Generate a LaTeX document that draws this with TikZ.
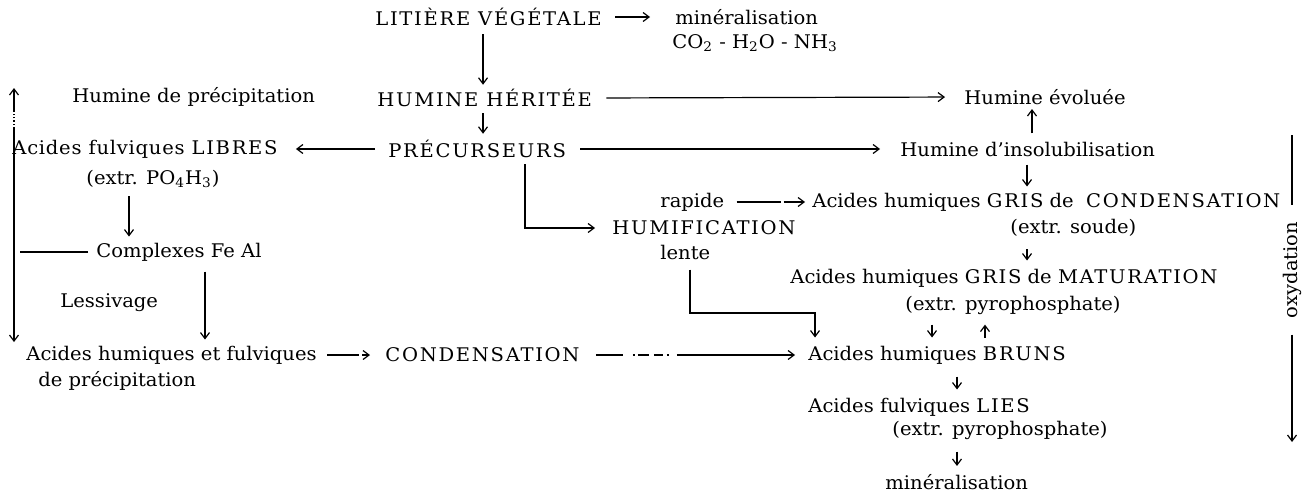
\documentclass[tikz,border=0pt]{standalone}
\usepackage{fontspec}
\setmainfont{DejaVu Serif}[FakeStretch=1.04]
\usetikzlibrary{arrows.meta}
\newcommand\cp[1]{{\addfontfeature{LetterSpace=9}#1}}
\tikzset{
  lbl/.style={anchor=west,inner sep=0pt,font=\fontsize{9.4}{11}\selectfont},
  fl/.style={-{Straight Barb[length=3pt,width=4.5pt]},line width=0.6pt},
  ln/.style={line width=0.6pt},
}
\begin{document}
\begin{tikzpicture}[x=0.5pt,y=0.5pt,yscale=-1,xscale=1]
        \useasboundingbox (0,0) rectangle (1307,493);
        % texts
        \draw (375,17) node [lbl] (lit) {\cp{LITIÈRE VÉGÉTALE}};
        \draw (675,17) node [lbl] (minr) {minéralisation};
        \draw (672,43) node [lbl] (gaz) {CO\textsubscript{2} - H\textsubscript{2}O - NH\textsubscript{3}};
        \draw (377,98) node [lbl] (hher) {\cp{HUMINE HÉRITÉE}};
        \draw (964,97) node [lbl] (hevol) {Humine évoluée};
        \draw (72,97) node [lbl] (hprec) {Humine de précipitation};
        \draw (388,149) node [lbl] (prec) {\cp{PRÉCURSEURS}};
        \draw (900,149) node [lbl] (hinsol) {Humine d'insolubilisation};
        \draw (12,149) node [lbl] (afl) {{\addfontfeature{LetterSpace=4}Acides fulviques }\cp{LIBRES}};
        \draw (86,179) node [lbl] (afle) {(extr. PO\textsubscript{4}H\textsubscript{3})};
        \draw (96,252) node [lbl] (cplx) {Complexes Fe Al};
        \draw (60,303) node [lbl] (less) {Lessivage};
        \draw (26,355) node [lbl] (ahf) {Acides humiques et fulviques};
        \draw (38,381) node [lbl] (ahf2) {de précipitation};
        \draw (385,355) node [lbl] (cond) {\cp{CONDENSATION}};
        \draw (808,355) node [lbl] (brun) {Acides humiques \cp{BRUNS}};
        \draw (660,202) node [lbl] (rap) {rapide};
        \draw (612,228) node [lbl] (humif) {\cp{HUMIFICATION}};
        \draw (660,252) node [lbl] (lente) {lente};
        \draw (812,202) node [lbl] (grisc) {Acides humiques \cp{GRIS} de \ \cp{CONDENSATION}};
        \draw (1010,228) node [lbl] (soude) {(extr. soude)};
        \draw (790,278) node [lbl] (grism) {Acides humiques \cp{GRIS} de \cp{MATURATION}};
        \draw (905,305) node [lbl] (pyro1) {(extr. pyrophosphate)};
        \draw (808,407) node [lbl] (lies) {Acides fulviques \cp{LIES}};
        \draw (892,430) node [lbl] (pyro2) {(extr. pyrophosphate)};
        \draw (885,482) node [lbl] (minr2) {minéralisation};
        \draw (1292,270) node [lbl,anchor=center,rotate=90] (oxy) {oxydation};
        % helper coordinates
        \coordinate (lvtop) at (14,88);
        \coordinate (lvdot) at (14,111);
        \coordinate (lvmid) at (14,128);
        \coordinate (lv) at (14,252);
        \coordinate (lvbot) at (14,342);
        \coordinate (xa) at (129,0);
        \coordinate (xb) at (205,0);
        \coordinate (xc) at (483,0);
        \coordinate (xd) at (525,0);
        \coordinate (xe) at (1027,0);
        \coordinate (xf) at (1032,0);
        \coordinate (knee) at (690,313);
        \coordinate (xg) at (815,313);
        \coordinate (xh) at (932,0);
        \coordinate (xi) at (985,0);
        \coordinate (xj) at (957,0);
        \coordinate (otop) at (1292,135);
        \coordinate (obot) at (1292,442);
        % connectors
        \draw [fl,shorten <=6.5pt,shorten >=12.5pt] (lit.east) -- (minr.west);
        \draw [fl,shorten <=4pt,shorten >=2pt] (lit.south -| xc) -- (hher.north -| xc);
        \draw [fl,shorten <=3pt,shorten >=3pt] (hher.south -| xc) -- (prec.north -| xc);
        \draw [fl,shorten <=7pt,shorten >=9.5pt] (hher.east) -- (hevol.west);
        \draw [fl,shorten <=4pt,shorten >=2pt] (hinsol.north -| xf) -- (hevol.south -| xf);
        \draw [fl,shorten <=7pt,shorten >=10pt] (prec.east) -- (hinsol.west);
        \draw [fl,shorten <=6.5pt,shorten >=9pt] (prec.west) -- (afl.east);
        \draw [fl,shorten <=4pt,shorten >=3pt] (afle.south -| xa) -- (cplx.north -| xa);
        \draw [ln,shorten <=4pt,shorten >=3pt] (cplx.west) -- (lv);
        \draw [ln] (lv) -- (lvmid);
        \draw [ln,densely dotted] (lvmid) -- (lvdot);
        \draw [fl] (lvdot) -- (lvtop);
        \draw [fl] (lv) -- (lvbot);
        \draw [fl,shorten <=5pt,shorten >=3pt] (cplx.south -| xb) -- (ahf.north -| xb);
        \draw [fl,dash pattern=on 16pt off 1.5pt on 40pt,shorten <=5pt,shorten >=7.5pt] (ahf.east) -- (cond.west);
        \draw [fl,dash pattern=on 13.5pt off 5pt on 1pt off 1.5pt on 5.5pt off 2.5pt on 4.5pt off 2pt on 1pt off 4pt on 200pt,shorten <=8pt,shorten >=6.5pt] (cond.east) -- (brun.west);
        \draw [fl,shorten <=3pt,shorten >=8.5pt] (prec.south -| xd) |- (humif.west);
        \draw [fl,dash pattern=on 22pt off 1.5pt on 60pt,shorten <=6pt,shorten >=3.5pt] (rap.east) -- (grisc.west);
        \draw [fl,shorten <=4pt,shorten >=3pt] (hinsol.south -| xe) -- (grisc.north -| xe);
        \draw [fl,shorten <=6pt,shorten >=4pt] (soude.south -| xe) -- (grism.north -| xe);
        \draw [fl,shorten <=5pt,shorten >=4pt] (lente.south -| knee) |- (xg) -- (brun.north -| xg);
        \draw [fl,shorten <=5pt,shorten >=4pt] (pyro1.south -| xh) -- (brun.north -| xh);
        \draw [fl,shorten <=4pt,shorten >=5pt] (brun.north -| xi) -- (pyro1.south -| xi);
        \draw [fl,shorten <=6pt,shorten >=4pt] (brun.south -| xj) -- (lies.north -| xj);
        \draw [fl,shorten <=6pt,shorten >=4pt] (pyro2.south -| xj) -- (minr2.north -| xj);
        \draw [ln,shorten >=8pt] (otop) -- (oxy.east);
        \draw [fl,shorten <=8pt] (oxy.west) -- (obot);
\end{tikzpicture}
\end{document}
